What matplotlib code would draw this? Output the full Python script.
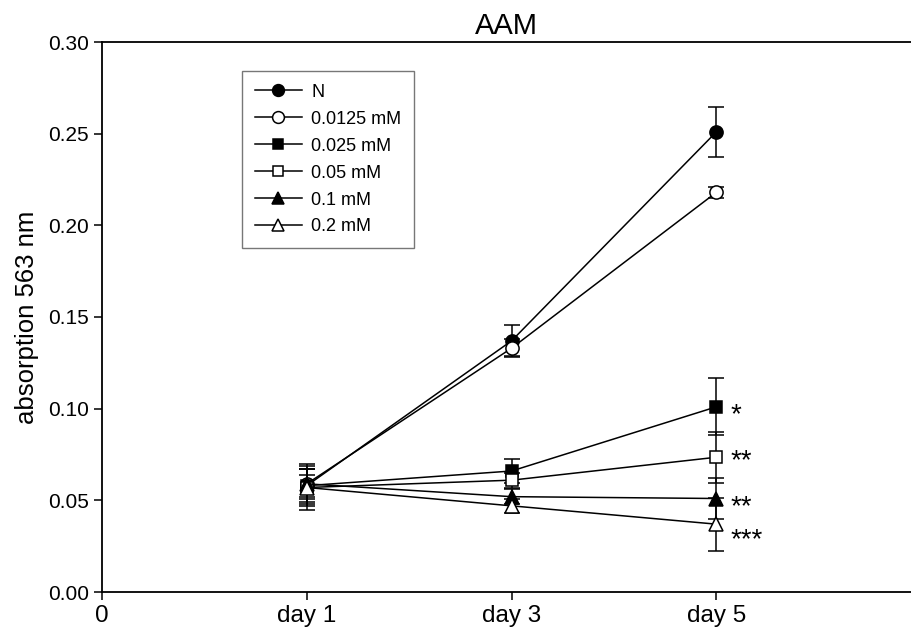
import matplotlib
matplotlib.use("Agg")
import matplotlib.pyplot as plt
from matplotlib.lines import Line2D

plt.rcParams['font.family'] = ['Liberation Sans', 'DejaVu Sans']

days = [1, 2, 3]
tick_pos = [0, 1, 2, 3]
tick_labels = ['0', 'day 1', 'day 3', 'day 5']

labels = ['N', '0.0125 mM', '0.025 mM', '0.05 mM', '0.1 mM', '0.2 mM']
markers = ['o', 'o', 's', 's', '^', '^']
filled = [True, False, True, False, True, False]

means = [
    [0.058, 0.137, 0.251],
    [0.059, 0.133, 0.218],
    [0.058, 0.066, 0.101],
    [0.057, 0.061, 0.0735],
    [0.059, 0.052, 0.051],
    [0.057, 0.047, 0.037],
]
errs = [
    [0.006, 0.0085, 0.0137],
    [0.011, 0.005, 0.003],
    [0.009, 0.0068, 0.0155],
    [0.012, 0.004, 0.014],
    [0.008, 0.004, 0.011],
    [0.010, 0.004, 0.0145],
]

stars = ['*', '**', '**', '***']
star_y = [0.098, 0.0725, 0.0475, 0.0296]

fig = plt.figure(figsize=(9.11, 6.34), dpi=100)
ax = fig.add_axes([102 / 911, 42 / 634, 0.9999 - 102 / 911, 550 / 634])

msize = {'o': 9.5, 's': 8.5, '^': 9.5}
handles = []
for i in range(len(labels)):
    fc = 'black' if filled[i] else 'white'
    ax.errorbar(days, means[i], yerr=errs[i], color='black', lw=1.1,
                marker=markers[i], markersize=msize[markers[i]],
                markerfacecolor=fc, markeredgecolor='black', markeredgewidth=1.1,
                capsize=5.8, elinewidth=1.1, capthick=1.1)
    handles.append(Line2D([], [], color='black', lw=1.1, marker=markers[i],
                          markersize=msize[markers[i]] - 1, markerfacecolor=fc,
                          markeredgecolor='black', markeredgewidth=1.1))

for s, y in zip(stars, star_y):
    ax.text(3.07, y - 0.0013, s, fontsize=20, va='center', ha='left')

ax.set_xlim(0, 3.95)
ax.set_ylim(0, 0.30)
ax.set_xticks(tick_pos)
ax.set_xticklabels(tick_labels, fontsize=17.5)
ax.set_yticks([0, 0.05, 0.10, 0.15, 0.20, 0.25, 0.30])
ax.set_yticklabels(['0.00', '0.05', '0.10', '0.15', '0.20', '0.25', '0.30'], fontsize=15)
ax.tick_params(direction='out', length=6, width=1.1)
ax.spines['right'].set_visible(False)
for sp in ['left', 'bottom', 'top']:
    ax.spines[sp].set_linewidth(1.3)
ax.set_ylabel('absorption 563 nm', fontsize=18.5, labelpad=6)
ax.set_title('AAM', fontsize=21, pad=6)

leg = ax.legend(handles, labels, loc='upper left', bbox_to_anchor=(0.173, 0.947),
                fontsize=13, frameon=True, fancybox=False, edgecolor='#555555',
                handlelength=2.6, handletextpad=0.55, labelspacing=0.55,
                borderpad=0.7, borderaxespad=0)
leg.get_frame().set_linewidth(1.0)

fig.savefig('out.png', dpi=100)
